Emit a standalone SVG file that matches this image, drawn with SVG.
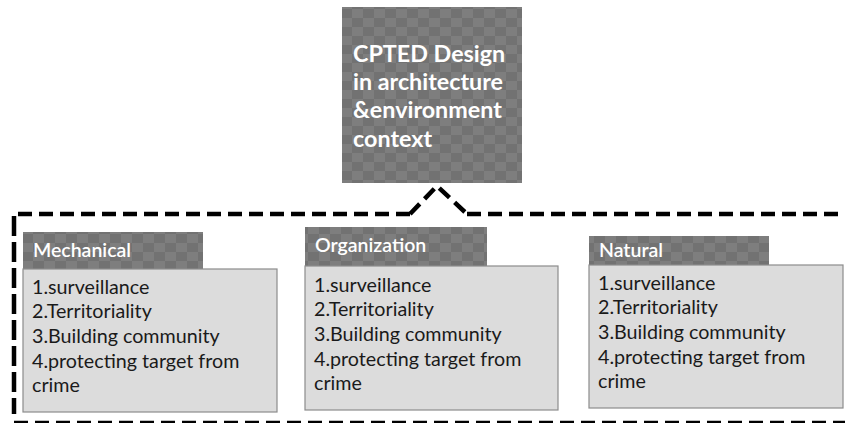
<svg xmlns="http://www.w3.org/2000/svg" width="845" height="423" viewBox="0 0 845 423">
<defs>
<pattern id="chk" x="0" y="0" width="22" height="18" patternUnits="userSpaceOnUse">
<rect width="22" height="18" fill="#727272"/>
<rect x="11" y="0" width="11" height="9" fill="#7e7e7e"/>
<rect x="0" y="9" width="11" height="9" fill="#7e7e7e"/>
</pattern>
<style>
.dash{fill:none;stroke:#000;stroke-width:4.5;stroke-dasharray:14 7}
.vdash{fill:none;stroke:#000;stroke-width:4.5;stroke-dasharray:20 6}
.hdr{fill:url(#chk)}
.body{fill:#dcdcdc;stroke:#8c8c8c;stroke-width:1.2}
.ht{font-family:Lato,"Open Sans",sans-serif;font-size:19.5px;font-weight:600;fill:#fff}
.bt{font-family:Lato,"Open Sans",sans-serif;font-size:19.7px;fill:#1a1a1a}
.tt{font-family:Lato,"Open Sans",sans-serif;font-size:23.3px;font-weight:bold;fill:#fff}
</style>
</defs>
<rect width="845" height="423" fill="#fff"/>
<g id="top">
<rect x="342" y="7" width="180" height="176" class="hdr"/>
<text class="tt" x="353" y="62">CPTED Design</text>
<text class="tt" x="353" y="90">in architecture</text>
<text class="tt" x="353" y="118">&amp;environment</text>
<text class="tt" x="353" y="147">context</text>
</g>
<g id="connectors">
<path class="dash" d="M410,214 L437,186 L467,214"/>
<path class="dash" d="M410,214 L14,214"/>
<path class="vdash" d="M14,216 L14,414"/>
<path class="dash" d="M467,214 L845,214"/>
<path class="dash" d="M14,423 L845,423"/>
</g>
<g id="mechanical">
<rect x="23" y="232" width="180" height="37" class="hdr"/>
<rect x="23" y="269" width="254" height="143" class="body"/>
<text class="ht" x="33" y="257">Mechanical</text>
<text class="bt" x="32" y="294">1.surveillance</text>
<text class="bt" x="32" y="318">2.Territoriality</text>
<text class="bt" x="32" y="343">3.Building community</text>
<text class="bt" x="32" y="368">4.protecting target from</text>
<text class="bt" x="32" y="392">crime</text>
</g>
<g id="organization">
<rect x="305" y="227" width="182" height="39" class="hdr"/>
<rect x="305" y="266" width="253" height="144" class="body"/>
<text class="ht" x="315" y="252">Organization</text>
<text class="bt" x="314" y="292">1.surveillance</text>
<text class="bt" x="314" y="316">2.Territoriality</text>
<text class="bt" x="314" y="341">3.Building community</text>
<text class="bt" x="314" y="366">4.protecting target from</text>
<text class="bt" x="314" y="390">crime</text>
</g>
<g id="natural">
<rect x="589" y="236" width="180" height="29" class="hdr"/>
<rect x="589" y="265" width="254" height="143" class="body"/>
<text class="ht" x="599" y="257">Natural</text>
<text class="bt" x="598" y="290">1.surveillance</text>
<text class="bt" x="598" y="314">2.Territoriality</text>
<text class="bt" x="598" y="339">3.Building community</text>
<text class="bt" x="598" y="364">4.protecting target from</text>
<text class="bt" x="598" y="388">crime</text>
</g>
</svg>
